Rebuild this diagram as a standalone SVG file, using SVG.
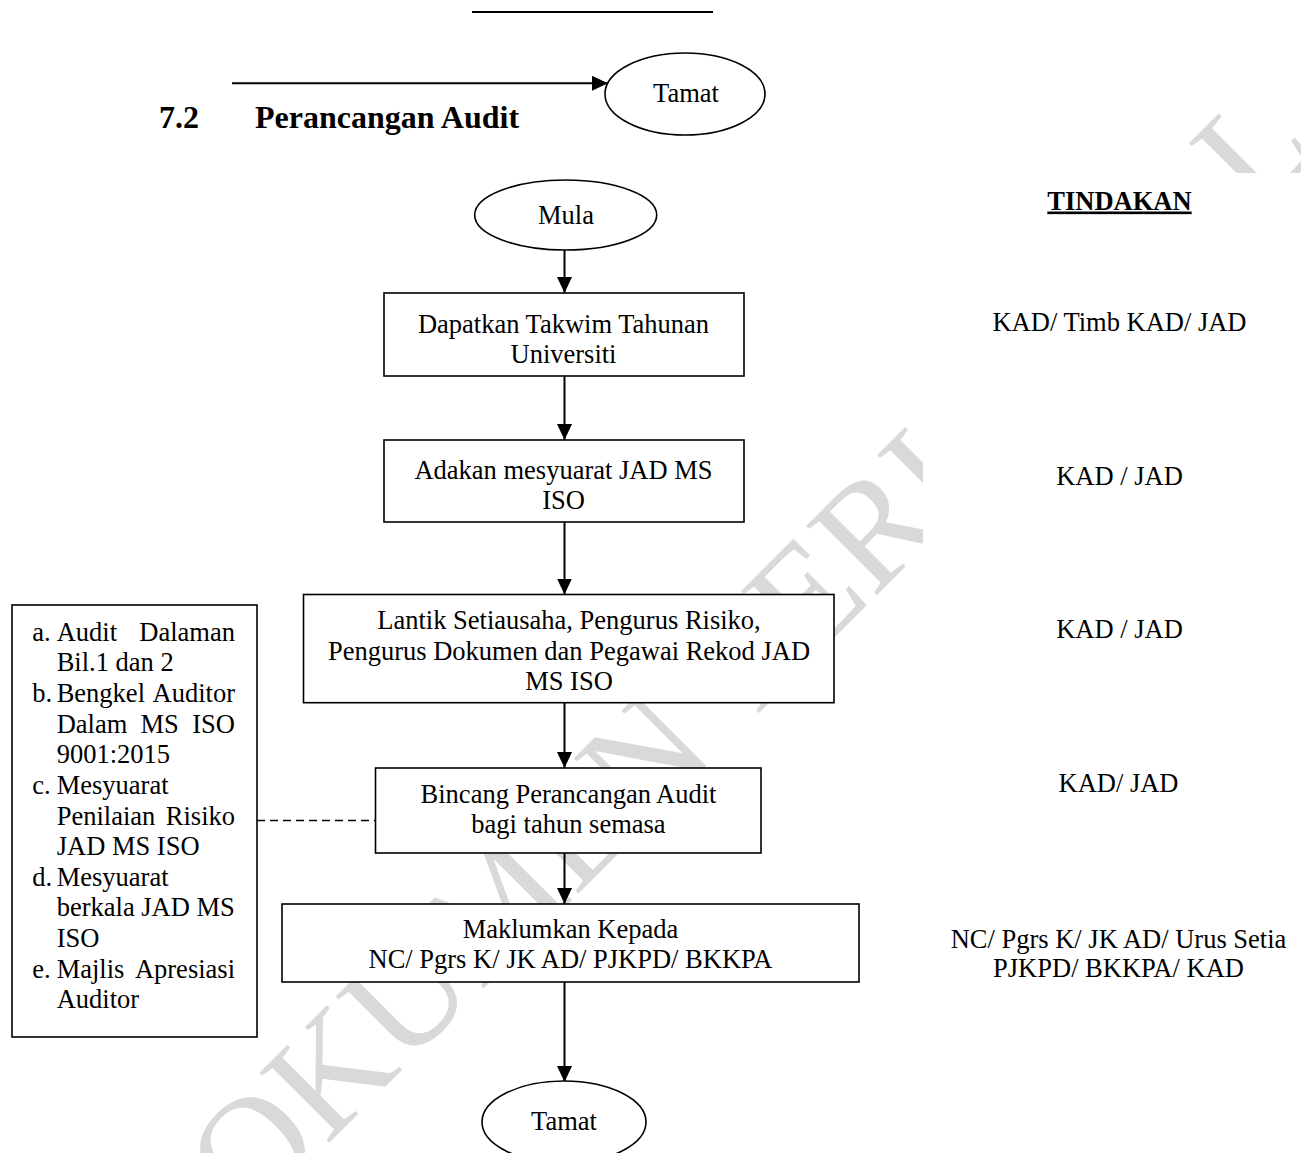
<svg xmlns="http://www.w3.org/2000/svg" width="1301" height="1153" viewBox="0 0 1301 1153">
<style>
  .t { font-family: "Liberation Serif", "Times New Roman", serif; font-size: 26.5px; fill: #000; }
  .c { text-anchor: middle; }
  .e { text-anchor: end; }
  .b { font-weight: bold; }
  .box { fill: #fff; stroke: #000; stroke-width: 1.6; }
  .con { stroke: #000; stroke-width: 2; fill: none; }
  .wm { font-family: "Liberation Serif", "Times New Roman", serif; font-size: 151px; fill: #d9d9d9; }
</style>
<defs>
  <marker id="ah" markerUnits="userSpaceOnUse" markerWidth="16" markerHeight="15" refX="16" refY="7.5" orient="auto">
    <path d="M0,0 L16,7.5 L0,15 Z" fill="#000"/>
  </marker>
</defs>
<rect x="0" y="0" width="1301" height="1153" fill="#fff"/>

<!-- watermark -->
<text class="wm" x="172" y="1300" transform="rotate(-45 172 1300)">DOKUMEN TERKAWAL</text>
<rect x="923" y="173" width="378" height="700" fill="#fff"/>

<!-- stray top rule -->
<line x1="472" y1="12" x2="713" y2="12" stroke="#000" stroke-width="2"/>

<!-- heading -->
<g id="heading">
  <text class="t b" x="159" y="128" style="font-size:32px">7.2</text>
  <text class="t b" x="255" y="128" style="font-size:32px">Perancangan Audit</text>
</g>

<g id="connectors">
  <line class="con" x1="232" y1="83.3" x2="608" y2="83.3" marker-end="url(#ah)"/>
  <line class="con" x1="564.5" y1="250" x2="564.5" y2="293" marker-end="url(#ah)"/>
  <line class="con" x1="564.5" y1="376" x2="564.5" y2="440" marker-end="url(#ah)"/>
  <line class="con" x1="564.5" y1="522" x2="564.5" y2="594.5" marker-end="url(#ah)"/>
  <line class="con" x1="564.5" y1="702.7" x2="564.5" y2="768" marker-end="url(#ah)"/>
  <line class="con" x1="564.5" y1="853" x2="564.5" y2="904" marker-end="url(#ah)"/>
  <line class="con" x1="564.5" y1="982" x2="564.5" y2="1082" marker-end="url(#ah)"/>
  <line x1="257" y1="820.5" x2="375.5" y2="820.5" stroke="#000" stroke-width="1.5" stroke-dasharray="8 5"/>
</g>

<g id="tamat-top">
  <ellipse class="box" cx="685" cy="94" rx="80" ry="41"/>
  <text class="t c" x="686" y="102">Tamat</text>
</g>

<g id="mula">
  <ellipse class="box" cx="565.7" cy="215" rx="91" ry="35"/>
  <text class="t c" x="566" y="224">Mula</text>
</g>

<g id="takwim">
  <rect class="box" x="384" y="293" width="360" height="83"/>
  <text class="t c" x="563.5" y="332.5">Dapatkan Takwim Tahunan</text>
  <text class="t c" x="563.5" y="363">Universiti</text>
</g>

<g id="mesyuarat">
  <rect class="box" x="384" y="440" width="360" height="82"/>
  <text class="t c" x="563.5" y="478.5">Adakan mesyuarat JAD MS</text>
  <text class="t c" x="563.5" y="509">ISO</text>
</g>

<g id="lantik">
  <rect class="box" x="303.5" y="594.5" width="530.5" height="108.2"/>
  <text class="t c" x="569" y="629.3">Lantik Setiausaha, Pengurus Risiko,</text>
  <text class="t c" x="569" y="659.8">Pengurus Dokumen dan Pegawai Rekod JAD</text>
  <text class="t c" x="569" y="690.3">MS ISO</text>
</g>

<g id="bincang">
  <rect class="box" x="375.5" y="768" width="385.5" height="85"/>
  <text class="t c" x="568.5" y="802.5">Bincang Perancangan Audit</text>
  <text class="t c" x="568.5" y="833">bagi tahun semasa</text>
</g>

<g id="maklumkan">
  <rect class="box" x="282" y="904" width="577" height="78"/>
  <text class="t c" x="570.5" y="937.5">Maklumkan Kepada</text>
  <text class="t c" x="570.5" y="968">NC/ Pgrs K/ JK AD/ PJKPD/ BKKPA</text>
</g>

<g id="tamat-bottom">
  <ellipse class="box" cx="564" cy="1122" rx="82" ry="41"/>
  <text class="t c" x="564" y="1130">Tamat</text>
</g>

<g id="senarai" style="font-size:26.3px">
  <rect class="box" x="12" y="605" width="245" height="432"/>
  <text class="t" x="32.3" y="640.7">a.</text>
  <text class="t" x="56.7" y="640.7">Audit</text>
  <text class="t e" x="235" y="640.7">Dalaman</text>
  <text class="t" x="56.7" y="671.3">Bil.1 dan 2</text>
  <text class="t" x="32.3" y="701.9">b.</text>
  <text class="t" x="56.7" y="701.9">Bengkel</text>
  <text class="t e" x="235" y="701.9">Auditor</text>
  <text class="t" x="56.7" y="732.6">Dalam</text>
  <text class="t c" x="159.7" y="732.6">MS</text>
  <text class="t e" x="235" y="732.6">ISO</text>
  <text class="t" x="56.7" y="763.2">9001:2015</text>
  <text class="t" x="32.3" y="793.9">c.</text>
  <text class="t" x="56.7" y="793.9">Mesyuarat</text>
  <text class="t" x="56.7" y="824.5">Penilaian</text>
  <text class="t e" x="235" y="824.5">Risiko</text>
  <text class="t" x="56.7" y="855.1">JAD MS ISO</text>
  <text class="t" x="32.3" y="885.7">d.</text>
  <text class="t" x="56.7" y="885.7">Mesyuarat</text>
  <text class="t" x="56.7" y="916.4">berkala JAD MS</text>
  <text class="t" x="56.7" y="947">ISO</text>
  <text class="t" x="32.3" y="977.6">e.</text>
  <text class="t" x="56.7" y="977.6">Majlis</text>
  <text class="t e" x="235" y="977.6">Apresiasi</text>
  <text class="t" x="56.7" y="1008.3">Auditor</text>
</g>

<g id="tindakan">
  <text class="t c b" x="1119.5" y="209.5" text-decoration="underline">TINDAKAN</text>
  <text class="t c" x="1119.5" y="331">KAD/ Timb KAD/ JAD</text>
  <text class="t c" x="1119.5" y="485">KAD / JAD</text>
  <text class="t c" x="1119.5" y="638">KAD / JAD</text>
  <text class="t c" x="1118.5" y="792">KAD/ JAD</text>
  <text class="t c" x="1118.5" y="947.5">NC/ Pgrs K/ JK AD/ Urus Setia</text>
  <text class="t c" x="1118.5" y="977">PJKPD/ BKKPA/ KAD</text>
</g>
</svg>
